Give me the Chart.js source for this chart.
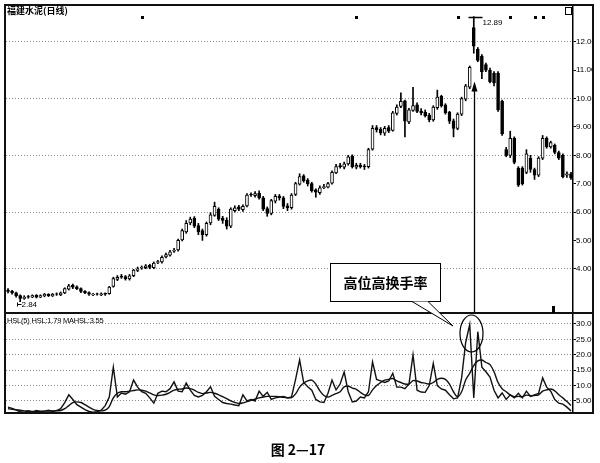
<!DOCTYPE html>
<html><head><meta charset="utf-8">
<script src="https://cdn.jsdelivr.net/npm/chart.js@4.4.0/dist/chart.umd.min.js"></script>
<style>
body{margin:0;background:#fff;width:600px;height:463px;position:relative;overflow:hidden;font-family:'Liberation Sans',Arial,sans-serif;color:#000}
.abs{position:absolute}
.ln{position:absolute;background:#111}
</style></head>
<body>
<div class="abs" style="left:5px;top:5px;width:589px;height:308px"><canvas id="c1" width="589" height="308"></canvas></div>
<div class="abs" style="left:5px;top:313px;width:589px;height:100px"><canvas id="c2" width="589" height="100"></canvas></div>

<div class="ln" style="left:4px;top:4px;width:590px;height:2px"></div>
<div class="ln" style="left:4px;top:4px;width:2px;height:410px"></div>
<div class="ln" style="left:592px;top:4px;width:2px;height:410px"></div>
<div class="ln" style="left:4px;top:412px;width:590px;height:2px"></div>
<div class="ln" style="left:4px;top:312px;width:590px;height:2px"></div>
<div class="abs" style="left:565px;top:7px;width:5px;height:6px;border:1px solid #000;background:#fff"></div>
<div class="abs" style="left:552px;top:306px;width:3px;height:7px;background:#000"></div>

<div class="abs" style="left:7px;top:6px;font:bold 9px 'Noto Sans CJK SC';line-height:10px">福建水泥(日线)</div>
<div class="abs" style="left:7px;top:316px;font:7.5px 'Liberation Sans';line-height:9px;letter-spacing:-0.2px">HSL(5) HSL:1.79 MAHSL:3.55</div>

<svg class="abs" style="left:0;top:0" width="600" height="463">
  <rect x="330.5" y="263.5" width="110" height="38" fill="#fff" stroke="#000" stroke-width="1"/>
  <polygon points="412,301.5 428,301.5 453,326" fill="#fff" stroke="none"/>
  <polyline points="412,301.5 453,326 428,301.5" fill="none" stroke="#000" stroke-width="1"/>
  <ellipse cx="471.5" cy="333.5" rx="11.5" ry="18.5" fill="none" stroke="#000" stroke-width="1.2"/>
</svg>
<div class="abs" style="left:330px;top:273px;width:111px;text-align:center;font:bold 14px 'Noto Sans CJK SC';line-height:18px">高位高换手率</div>
<div class="abs" style="left:200px;top:440px;width:196px;text-align:center;font:bold 14px 'Noto Sans CJK SC';line-height:18px">图 2—17</div>

<script>
const opens = [
3.25,3.20,3.15,3.05,2.95,3.02,3.00,3.06,3.00,3.04,
3.10,3.04,3.12,3.08,3.15,3.28,3.42,3.36,3.30,3.20,
3.16,3.08,3.12,3.08,3.13,3.12,3.38,3.62,3.74,3.72,
3.64,3.76,3.94,4.02,4.04,4.12,4.04,4.22,4.24,4.42,
4.48,4.62,4.66,5.02,5.30,5.62,5.78,5.52,5.35,5.20,
5.62,5.88,6.10,5.78,5.72,5.50,6.05,6.18,6.08,6.22,
6.62,6.58,6.66,6.50,6.12,5.95,6.38,6.56,6.50,6.22,
6.15,6.62,6.98,7.28,7.12,7.00,6.78,6.68,6.86,6.88,
7.02,7.38,7.64,7.58,7.70,7.96,7.58,7.66,7.62,7.60,
8.22,8.98,8.92,8.78,8.98,8.88,9.48,9.72,9.92,9.18,
9.58,9.78,9.56,9.52,9.42,9.25,9.68,10.08,9.78,9.52,
9.22,8.95,9.45,9.98,10.40,12.50,11.75,11.50,11.20,11.00,
10.90,10.90,9.90,8.20,8.00,8.60,7.55,7.55,7.40,7.90,
7.50,7.30,7.90,8.60,8.30,8.35,8.10,8.00,7.30,7.35];
const highs = [
3.30,3.24,3.18,3.08,3.05,3.06,3.08,3.09,3.08,3.13,
3.12,3.13,3.15,3.18,3.33,3.45,3.46,3.40,3.33,3.23,
3.19,3.13,3.14,3.15,3.15,3.38,3.70,3.76,3.80,3.76,
3.80,3.98,4.06,4.10,4.15,4.16,4.24,4.30,4.46,4.55,
4.65,4.72,5.05,5.40,5.70,5.82,5.84,5.60,5.40,5.65,
5.98,6.35,6.15,5.85,5.80,6.15,6.22,6.24,6.25,6.65,
6.68,6.72,6.75,6.55,6.18,6.45,6.62,6.62,6.55,6.30,
6.65,7.05,7.35,7.32,7.18,7.05,6.82,6.92,6.98,7.05,
7.45,7.68,7.72,7.76,8.00,8.02,7.72,7.72,7.68,8.25,
9.05,9.05,8.98,9.02,9.05,9.55,9.78,10.20,9.95,9.66,
10.40,9.85,9.65,9.60,9.48,9.75,10.30,10.12,9.82,9.55,
9.28,9.50,10.05,10.50,11.15,12.89,11.80,11.55,11.25,11.08,
10.95,10.95,9.95,8.28,8.85,8.65,7.60,7.60,8.20,8.00,
7.55,7.95,8.70,8.65,8.50,8.40,8.15,8.05,7.42,7.40];
const lows = [
3.15,3.10,3.00,2.84,2.92,2.96,2.98,2.97,2.98,3.01,
3.02,3.02,3.06,3.05,3.12,3.25,3.30,3.26,3.16,3.12,
3.06,3.05,3.07,3.05,3.06,3.10,3.35,3.58,3.66,3.60,
3.60,3.72,3.90,3.98,4.00,4.00,4.00,4.18,4.20,4.38,
4.44,4.58,4.62,4.98,5.25,5.55,5.45,5.20,5.00,5.15,
5.55,5.85,5.70,5.60,5.40,5.45,6.00,6.05,6.02,6.18,
6.55,6.52,6.45,6.05,5.85,5.90,6.32,6.42,6.12,6.05,
6.10,6.58,6.95,7.05,6.92,6.70,6.52,6.62,6.82,6.85,
6.98,7.35,7.55,7.52,7.65,7.55,7.52,7.55,7.50,7.55,
8.18,8.82,8.72,8.70,8.80,8.85,9.42,9.68,8.65,9.12,
9.55,9.50,9.42,9.35,9.18,9.20,9.62,9.70,9.45,9.12,
8.65,8.90,9.40,9.92,10.35,11.60,11.30,10.70,10.95,10.55,
10.45,9.55,8.70,7.95,7.92,7.70,6.90,6.95,7.35,7.40,
7.15,7.25,7.85,8.25,8.25,8.05,7.85,7.20,7.22,7.15];
const closes = [
3.20,3.15,3.05,2.95,3.00,3.00,3.05,3.00,3.05,3.10,
3.05,3.10,3.10,3.15,3.30,3.40,3.35,3.30,3.20,3.15,
3.10,3.10,3.10,3.12,3.10,3.35,3.65,3.70,3.70,3.65,
3.75,3.95,4.00,4.05,4.10,4.05,4.20,4.25,4.40,4.50,
4.60,4.65,5.00,5.35,5.60,5.75,5.50,5.30,5.20,5.60,
5.90,6.20,5.75,5.70,5.50,6.10,6.15,6.10,6.20,6.60,
6.60,6.65,6.50,6.10,5.95,6.40,6.55,6.50,6.20,6.15,
6.60,7.00,7.25,7.10,7.00,6.75,6.70,6.85,6.90,7.00,
7.40,7.60,7.60,7.70,7.95,7.60,7.65,7.60,7.60,8.20,
8.95,8.90,8.80,8.95,8.85,9.50,9.70,9.90,9.20,9.60,
9.75,9.55,9.50,9.40,9.25,9.70,10.05,9.75,9.50,9.20,
8.95,9.45,10.00,10.45,11.10,11.85,11.35,10.95,11.00,10.60,
10.55,9.60,8.75,8.00,8.60,7.75,6.95,7.00,8.05,7.50,
7.30,7.90,8.60,8.30,8.45,8.10,7.90,7.25,7.35,7.20];
const hsl = [
3.0,2.6,2.0,1.5,1.3,1.8,1.4,1.9,1.5,1.7,
2.0,1.6,1.9,2.5,4.5,7.0,5.5,3.8,3.0,2.2,
1.6,1.4,1.5,2.0,3.5,6.3,16.0,6.3,7.6,7.2,
8.0,11.8,9.5,8.0,7.5,6.0,4.3,7.5,8.2,8.0,
9.0,11.2,8.2,8.0,10.8,8.5,6.8,6.3,6.8,8.0,
9.6,6.5,5.5,4.5,4.2,4.0,3.7,3.5,7.0,5.0,
5.5,5.0,8.2,6.5,7.8,5.5,6.0,6.3,6.5,6.0,
6.3,12.0,18.3,11.0,9.6,8.5,5.5,4.7,4.5,7.5,
11.8,8.6,10.5,14.4,8.0,4.7,5.0,6.3,6.0,8.0,
17.7,12.0,11.5,11.0,11.5,14.0,9.5,9.5,9.0,10.5,
20.0,8.5,7.9,7.8,10.0,17.2,10.0,8.9,8.5,7.0,
5.7,6.0,12.5,24.0,29.8,6.0,27.5,16.0,14.5,12.8,
8.5,6.0,7.6,5.5,7.0,6.0,7.5,6.0,8.2,6.5,
7.0,7.5,12.5,9.5,8.2,5.5,4.3,4.0,3.0,1.79];
const mahsl = [
2.5,2.3,2.2,2.0,1.8,1.7,1.6,1.6,1.7,1.7,
1.7,1.8,1.8,1.9,2.5,3.5,4.5,4.7,4.5,3.8,
3.0,2.3,1.9,1.8,2.0,3.2,6.0,7.5,8.0,8.0,
8.2,8.4,8.6,8.5,8.2,7.6,7.0,6.8,6.9,7.2,
7.8,8.5,8.8,8.9,9.2,9.0,8.5,7.8,7.4,7.6,
7.8,7.5,7.0,6.4,5.8,5.0,4.5,4.2,4.4,4.8,
5.2,5.6,6.0,6.3,6.5,6.5,6.5,6.4,6.2,6.1,
6.1,7.3,9.5,10.8,11.5,11.8,10.5,8.3,6.8,6.3,
6.8,7.4,8.0,9.6,9.8,9.2,8.8,7.8,7.0,6.8,
8.6,10.0,11.0,11.8,12.0,12.3,11.5,11.0,10.5,10.5,
11.6,11.5,11.0,10.8,10.5,11.0,12.0,12.4,12.0,10.5,
8.0,6.4,8.0,11.8,14.0,16.5,18.0,18.3,17.5,16.8,
14.5,11.0,9.0,8.0,7.0,6.4,6.5,6.4,6.9,6.7,
6.8,7.0,8.2,8.6,8.9,8.3,7.0,6.0,4.8,3.55];
const priceTicks = [4,5,6,7,8,9,10,11,12];
const priceGridLines = [4,6,8,10,12];
const hslTicks = [5,10,15,20,25,30];
const markerDays = [33, 86, 111, 124, 130, 132];
const markerLevel = 12.88;
const highDay = 115;
const lowDay = 3;
const arrowTip = 10.6;

const days = closes.map((_, i) => String(i + 1));
const FONT = {family: 'Liberation Sans', size: 8};

const annot = {
  id: 'annot',
  afterDatasetsDraw(chart) {
    const {ctx, scales: {x, y}, chartArea} = chart;
    ctx.save();
    ctx.fillStyle = '#000'; ctx.strokeStyle = '#000';
    markerDays.forEach(d => {
      const px = x.getPixelForValue(d), py = y.getPixelForValue(markerLevel);
      ctx.fillRect(Math.round(px) - 1, Math.round(py) - 1, 3, 3);
    });
    const hx = Math.round(x.getPixelForValue(highDay)) + 0.5, hy = Math.round(y.getPixelForValue(highs[highDay])) + 0.5;
    ctx.lineWidth = 1.5;
    ctx.beginPath(); ctx.moveTo(hx - 6, hy); ctx.lineTo(hx + 8, hy); ctx.stroke();
    ctx.font = '8px "Liberation Sans"'; ctx.textBaseline = 'top';
    ctx.fillText(highs[highDay].toFixed(2), hx + 8, hy + 1);
    const lx = Math.round(x.getPixelForValue(lowDay)) + 0.5, ly = Math.round(y.getPixelForValue(lows[lowDay])) + 0.5;
    ctx.lineWidth = 1;
    ctx.beginPath(); ctx.moveTo(lx - 3, ly); ctx.lineTo(lx - 3, ly + 4); ctx.moveTo(lx - 3, ly + 2); ctx.lineTo(lx + 1, ly + 2); ctx.stroke();
    ctx.textBaseline = 'middle';
    ctx.fillText(lows[lowDay].toFixed(2), lx + 1, ly + 2.5);
    const ay = y.getPixelForValue(arrowTip);
    ctx.lineWidth = 1.3;
    ctx.beginPath(); ctx.moveTo(hx, chartArea.bottom); ctx.lineTo(hx, ay + 8); ctx.stroke();
    ctx.beginPath(); ctx.moveTo(hx, ay); ctx.lineTo(hx - 3, ay + 10); ctx.lineTo(hx + 3, ay + 10); ctx.closePath(); ctx.fill();
    ctx.restore();
  }
};

const bodyData = opens.map((o, i) => [o, closes[i]]);
const wickData = lows.map((l, i) => [l, highs[i]]);
const bodyFill = opens.map((o, i) => closes[i] >= o ? '#fff' : '#000');

function fitY(s) { s.width = 21; s.paddingTop = 0; s.paddingBottom = 0; }

new Chart(document.getElementById('c1'), {
  type: 'bar',
  data: {
    labels: days,
    datasets: [
      {data: bodyData, backgroundColor: bodyFill, borderColor: '#000', borderWidth: 1, borderSkipped: false, barThickness: 3, grouped: false, order: 0},
      {data: wickData, backgroundColor: '#000', borderWidth: 0, barThickness: 1, grouped: false, order: 1}
    ]
  },
  options: {
    responsive: false, animation: false, events: [],
    layout: {padding: {left: 1, right: 0, top: 0, bottom: 0}},
    plugins: {legend: {display: false}, tooltip: {enabled: false}},
    scales: {
      x: {type: 'category', display: false, offset: true},
      y: {
        position: 'right', min: 2.44, max: 13.3,
        afterBuildTicks: s => { s.ticks = priceTicks.map(v => ({value: v})); },
        afterFit: fitY,
        ticks: {font: FONT, color: '#000', padding: 0, callback: v => Number(v).toFixed(2)},
        grid: {color: c => priceGridLines.includes(c.tick && c.tick.value) ? '#8a8a8a' : 'rgba(0,0,0,0)', lineWidth: 1, tickLength: 3, tickColor: '#000'},
        border: {display: true, color: '#000', width: 1.5, dash: [1, 2]}
      }
    }
  },
  plugins: [annot]
});

new Chart(document.getElementById('c2'), {
  type: 'line',
  data: {
    labels: days,
    datasets: [
      {data: hsl, borderColor: '#111', borderWidth: 1.4, pointRadius: 0, tension: 0},
      {data: mahsl, borderColor: '#111', borderWidth: 1.4, pointRadius: 0, tension: 0.35}
    ]
  },
  options: {
    responsive: false, animation: false, events: [],
    layout: {padding: {left: 1, right: 0, top: 0, bottom: 0}},
    plugins: {legend: {display: false}, tooltip: {enabled: false}},
    scales: {
      x: {type: 'category', display: false, offset: true},
      y: {
        position: 'right', min: 1.1, max: 33.57,
        afterBuildTicks: s => { s.ticks = hslTicks.map(v => ({value: v})); },
        afterFit: fitY,
        ticks: {font: FONT, color: '#000', padding: 0, callback: v => Number(v).toFixed(2)},
        grid: {color: '#8a8a8a', lineWidth: 1, tickLength: 3, tickColor: '#000'},
        border: {display: true, color: '#000', width: 1.5, dash: [1, 2]}
      }
    }
  }
});
</script>
</body></html>
